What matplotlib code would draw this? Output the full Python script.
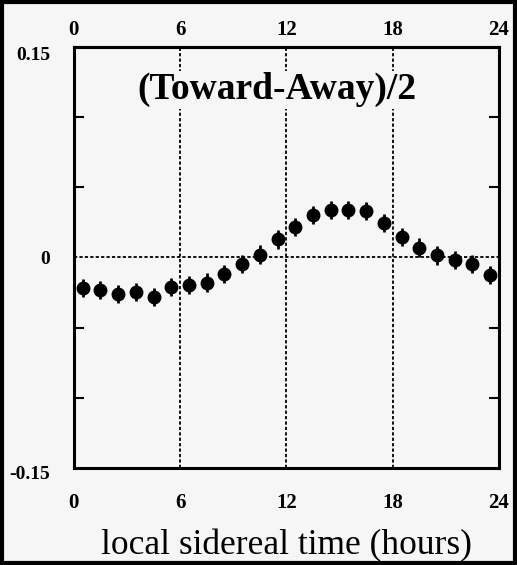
import numpy as np
import matplotlib.pyplot as plt
from matplotlib.patches import Rectangle
from matplotlib.transforms import offset_copy

# sidereal hour bins and (Toward-Away)/2 values
hours = [0.5, 1.5, 2.5, 3.5, 4.5, 5.5, 6.5, 7.5, 8.5, 9.5, 10.5, 11.5,
         12.5, 13.5, 14.5, 15.5, 16.5, 17.5, 18.5, 19.5, 20.5, 21.5, 22.5, 23.5]
values = [-0.022, -0.0235, -0.026, -0.0247, -0.028, -0.021, -0.0195, -0.018,
          -0.0116, -0.0045, 0.002, 0.0128, 0.0216, 0.030, 0.0335, 0.0335,
          0.033, 0.0247, 0.0145, 0.007, 0.0014, -0.002, -0.005, -0.0128]
errors = [0.0065] * 24
xticks = [0, 6, 12, 18, 24]
yticks_lab = [-0.15, 0, 0.15]
yticks_minor = [-0.1, -0.05, 0.05, 0.1]

plt.rcParams['font.family'] = ['Liberation Serif', 'DejaVu Serif']

bg = '#f6f6f6'
fig = plt.figure(figsize=(5.17, 5.65), dpi=100, facecolor=bg)
ax = fig.add_axes([0.143, 0.172, 0.822, 0.745])
ax.set_facecolor(bg)

ax.set_xlim(0, 24)
ax.set_ylim(-0.15, 0.15)

# dotted reference lines
for h in [6, 12, 18]:
    ax.axvline(h, color='black', lw=1.3, ls=(0, (1.8, 1.2)), zorder=1)
ax.axhline(0, color='black', lw=1.3, ls=(0, (1.8, 1.2)), zorder=1)

ax.errorbar(hours, values, yerr=errors, fmt='o', color='black', ms=9,
            elinewidth=2, capsize=0, zorder=3)

for s in ax.spines.values():
    s.set_linewidth(2.2)

ax.set_xticks(xticks)
ax.set_xticklabels([str(t) for t in xticks], fontweight='bold', fontsize=15)
ax.tick_params(axis='x', which='major', length=0, pad=18)

top = ax.secondary_xaxis('top')
top.set_xticks(xticks)
top.set_xticklabels([str(t) for t in xticks], fontweight='bold', fontsize=15)
top.tick_params(axis='x', length=0, pad=5)
top.spines['top'].set_linewidth(2.2)

ax.set_yticks(yticks_lab)
ax.set_yticklabels(['-0.15', '0', '0.15'], fontweight='bold', fontsize=14)
ax.set_yticks(yticks_minor, minor=True)
ax.tick_params(axis='y', which='major', length=0, pad=17)
ax.tick_params(axis='y', which='minor', direction='in', length=7, width=1.5,
               left=True, right=True)
for lab in ax.get_yticklabels():
    if lab.get_text() == '0.15':
        lab.set_verticalalignment('top')
    elif lab.get_text() == '-0.15':
        lab.set_transform(offset_copy(lab.get_transform(), fig=fig, y=-5, units='dots'))

ax.set_xlabel('local sidereal time (hours)', fontsize=25.5, labelpad=12)
ax.text(0.478, 0.898, '(Toward-Away)/2', transform=ax.transAxes, ha='center',
        va='center', fontsize=27, fontweight='bold', zorder=4,
        bbox=dict(facecolor=bg, edgecolor='none', pad=1))

fig.patches.append(Rectangle((0.003, 0.003), 0.994, 0.994, transform=fig.transFigure,
                             fill=False, lw=3, edgecolor='black'))

fig.savefig('out.png', dpi=100, facecolor=fig.get_facecolor())
